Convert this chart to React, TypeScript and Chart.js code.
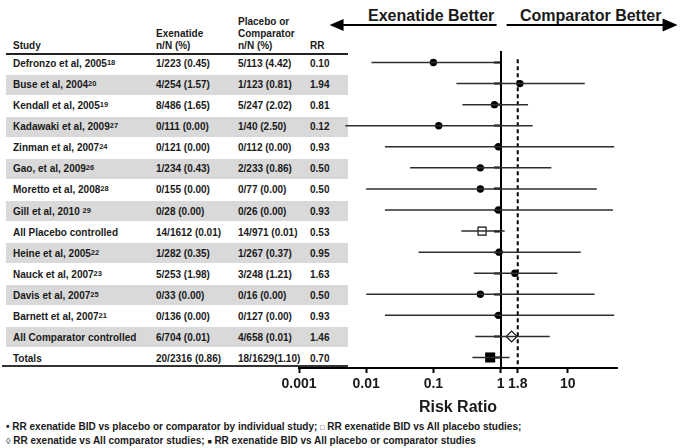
import React, { useEffect, useRef } from "react";
import { Chart, registerables } from "chart.js";

Chart.register(...registerables);

// ---------------- data ----------------
const STUDIES = [
  "Defronzo et al, 2005",
  "Buse et al, 2004",
  "Kendall et al, 2005",
  "Kadawaki et al, 2009",
  "Zinman et al, 2007",
  "Gao, et al, 2009",
  "Moretto et al, 2008",
  "Gill et al, 2010 ",
  "All Placebo controlled",
  "Heine et al, 2005",
  "Nauck et al, 2007",
  "Davis et al, 2007",
  "Barnett et al, 2007",
  "All Comparator controlled",
  "Totals",
];
const REFS = ["18", "20", "19", "27", "24", "26", "28", "29", "", "22", "23", "25", "21", "", ""];
const EXENATIDE = [
  "1/223 (0.45)", "4/254 (1.57)", "8/486 (1.65)", "0/111 (0.00)", "0/121 (0.00)",
  "1/234 (0.43)", "0/155 (0.00)", "0/28 (0.00)", "14/1612 (0.01)", "1/282 (0.35)",
  "5/253 (1.98)", "0/33 (0.00)", "0/136 (0.00)", "6/704 (0.01)", "20/2316 (0.86)",
];
const COMPARATOR = [
  "5/113 (4.42)", "1/123 (0.81)", "5/247 (2.02)", "1/40 (2.50)", "0/112 (0.00)",
  "2/233 (0.86)", "0/77 (0.00)", "0/26 (0.00)", "14/971 (0.01)", "1/267 (0.37)",
  "3/248 (1.21)", "0/16 (0.00)", "0/127 (0.00)", "4/658 (0.01)", "18/1629(1.10)",
];
const RR = [0.10, 1.94, 0.81, 0.12, 0.93, 0.50, 0.50, 0.93, 0.53, 0.95, 1.63, 0.50, 0.93, 1.46, 0.70];
const CI_LOW = [0.012, 0.22, 0.27, 0.0049, 0.019, 0.045, 0.010, 0.019, 0.26, 0.060, 0.40, 0.010, 0.019, 0.42, 0.38];
const CI_HIGH = [0.92, 17.9, 2.56, 3.0, 49, 5.7, 27, 47, 1.15, 15.6, 7.0, 25, 49, 5.4, 1.36];
const KIND = [
  "study", "study", "study", "study", "study", "study", "study", "study",
  "placebo", "study", "study", "study", "study", "comparator", "total",
];
const TICK_VALUES = [0.001, 0.01, 0.1, 1, 1.8, 10];
const TICK_LABELS = ["0.001", "0.01", "0.1", "1", "1.8", "10"];
const MARGIN_RR = 1.8;
const X_MIN = 0.001;
const X_MAX = 54;

// ---------------- layout ----------------
const W = 685;
const H = 448;
const PLOT_LEFT = 299;
const PLOT_RIGHT = 617;
const PLOT_TOP = 52;
const PLOT_BOTTOM = 368;
const X_AXIS_H = 50;
const ROW_H = (PLOT_BOTTOM - PLOT_TOP) / RR.length;
const FONT = "'Liberation Sans', Arial, Helvetica, sans-serif";
const TEXT = "#1a1a1a";

const COLS = [13, 156, 238, 310];

const arrowPlugin = {
  id: "headerArrows",
  afterDraw(chart: any) {
    const ctx = chart.ctx;
    const x1 = chart.scales.x.getPixelForValue(1);
    const y = 25;
    ctx.save();
    ctx.strokeStyle = "#000";
    ctx.fillStyle = "#000";
    ctx.lineWidth = 2;
    // left arrow
    const lTip = x1 - 171;
    ctx.beginPath();
    ctx.moveTo(x1 - 4, y);
    ctx.lineTo(lTip + 8, y);
    ctx.stroke();
    ctx.beginPath();
    ctx.moveTo(lTip, y);
    ctx.lineTo(lTip + 14, y - 6);
    ctx.lineTo(lTip + 14, y + 6);
    ctx.closePath();
    ctx.fill();
    // right arrow
    const rTip = x1 + 177;
    ctx.beginPath();
    ctx.moveTo(x1 + 6, y);
    ctx.lineTo(rTip - 8, y);
    ctx.stroke();
    ctx.beginPath();
    ctx.moveTo(rTip, y);
    ctx.lineTo(rTip - 15, y - 6.5);
    ctx.lineTo(rTip - 15, y + 6.5);
    ctx.closePath();
    ctx.fill();
    ctx.restore();
  },
};

function pointsOf(kind: string) {
  const out: { x: number; y: number }[] = [];
  RR.forEach((v, i) => {
    if (KIND[i] === kind) out.push({ x: v, y: i });
  });
  return out;
}

export default function App() {
  const canvasRef = useRef<HTMLCanvasElement>(null);

  useEffect(() => {
    const ciSets = RR.map((_, i) => ({
      data: [
        { x: CI_LOW[i], y: i },
        { x: CI_HIGH[i], y: i },
      ],
      showLine: true,
      borderColor: "#2e2e2e",
      borderWidth: 1.5,
      pointRadius: 0,
    }));
    const chart = new Chart(canvasRef.current as HTMLCanvasElement, {
      type: "scatter",
      data: {
        datasets: [
          ...ciSets,
          {
            data: [
              { x: MARGIN_RR, y: -0.15 },
              { x: MARGIN_RR, y: RR.length - 0.5 },
            ],
            showLine: true,
            borderColor: "#000",
            borderWidth: 2,
            borderDash: [4, 3],
            pointRadius: 0,
          },
          {
            data: pointsOf("study"),
            pointStyle: "circle",
            pointRadius: 3.7,
            backgroundColor: "#000",
            borderColor: "#000",
            borderWidth: 0,
          },
          {
            data: pointsOf("placebo"),
            pointStyle: "rect",
            pointRadius: 5.7,
            backgroundColor: "#fff",
            borderColor: "#111",
            borderWidth: 1.2,
          },
          {
            data: pointsOf("comparator"),
            pointStyle: "rectRot",
            pointRadius: 5.4,
            backgroundColor: "#fff",
            borderColor: "#111",
            borderWidth: 1.2,
          },
          {
            data: pointsOf("total"),
            pointStyle: "rect",
            pointRadius: 7.1,
            backgroundColor: "#000",
            borderColor: "#000",
            borderWidth: 0,
          },
        ] as any,
      },
      options: {
        responsive: false,
        maintainAspectRatio: false,
        animation: false,
        devicePixelRatio: 1,
        events: [],
        layout: {
          padding: {
            left: PLOT_LEFT,
            right: W - PLOT_RIGHT,
            top: PLOT_TOP,
            bottom: H - PLOT_BOTTOM - X_AXIS_H,
          },
        },
        plugins: {
          legend: { display: false },
          tooltip: { enabled: false },
        },
        scales: {
          x: {
            type: "logarithmic",
            min: X_MIN,
            max: X_MAX,
            position: "bottom",
            afterBuildTicks: (s: any) => {
              s.ticks = TICK_VALUES.map((v) => ({ value: v }));
            },
            afterFit: (s: any) => {
              s.height = X_AXIS_H;
            },
            ticks: {
              autoSkip: false,
              maxRotation: 0,
              padding: 3,
              color: TEXT,
              font: { family: FONT, size: 14, weight: "bold" },
              callback: (_v: any, i: number) => TICK_LABELS[i],
            },
            grid: {
              drawOnChartArea: false,
              drawTicks: true,
              tickLength: 5,
              tickWidth: 2,
              tickColor: "#000",
            },
            border: { display: true, color: "#000", width: 2 },
            title: {
              display: true,
              text: "Risk Ratio",
              color: TEXT,
              font: { family: FONT, size: 16, weight: "bold" },
              padding: { top: 0, bottom: 1 },
            },
          },
          y: {
            type: "linear",
            min: -0.5,
            max: RR.length - 0.5,
            reverse: true,
            position: { x: 1 },
            afterBuildTicks: (s: any) => {
              s.ticks = RR.map((_, i) => ({ value: i }));
            },
            ticks: { display: false },
            grid: {
              drawOnChartArea: false,
              drawTicks: true,
              tickLength: 6,
              tickWidth: 2,
              tickColor: "#000",
            },
            border: { display: true, color: "#000", width: 2 },
          },
        } as any,
      },
      plugins: [arrowPlugin],
    } as any);
    return () => chart.destroy();
  }, []);

  const textStyle = (left: number, centerY: number): React.CSSProperties => ({
    position: "absolute",
    left,
    top: centerY - 6,
    height: 12,
    lineHeight: "12px",
    whiteSpace: "nowrap",
  });

  return (
    <div
      style={{
        position: "fixed",
        left: 0,
        top: 0,
        width: W,
        height: H,
        background: "#fff",
        overflow: "hidden",
        fontFamily: FONT,
        fontWeight: "bold",
        fontSize: 10,
        color: TEXT,
      }}
    >
      {/* table bands */}
      {RR.map((_, i) =>
        i % 2 === 1 ? (
          <div
            key={"band" + i}
            style={{
              position: "absolute",
              left: 6,
              top: PLOT_TOP + i * ROW_H + 1.5,
              width: 342,
              height: ROW_H - 1,
              background: "#d9d9d9",
            }}
          />
        ) : null
      )}
      {/* header */}
      <div style={textStyle(COLS[0], 46)}>Study</div>
      <div style={textStyle(COLS[1], 34)}>Exenatide</div>
      <div style={textStyle(COLS[1], 46)}>n/N (%)</div>
      <div style={textStyle(COLS[2], 22)}>Placebo or</div>
      <div style={textStyle(COLS[2], 34)}>Comparator</div>
      <div style={textStyle(COLS[2], 46)}>n/N (%)</div>
      <div style={textStyle(COLS[3], 46)}>RR</div>
      <div style={{ position: "absolute", left: 6, top: 52.5, width: 342, height: 2, background: "#222" }} />
      <div style={{ position: "absolute", left: 2, top: 365, width: 346, height: 2, background: "#333" }} />
      {/* rows */}
      {STUDIES.map((s, i) => {
        const cy = PLOT_TOP + (i + 0.5) * ROW_H + 1.5;
        return (
          <React.Fragment key={"row" + i}>
            <div style={textStyle(COLS[0], cy)}>
              {s}
              {REFS[i] ? (
                <span style={{ fontSize: 7.5, verticalAlign: "top", position: "relative", top: -1 }}>{REFS[i]}</span>
              ) : null}
            </div>
            <div style={textStyle(COLS[1], cy)}>{EXENATIDE[i]}</div>
            <div style={textStyle(COLS[2], cy)}>{COMPARATOR[i]}</div>
            <div style={textStyle(COLS[3], cy)}>{RR[i].toFixed(2)}</div>
          </React.Fragment>
        );
      })}
      {/* header labels over arrows */}
      <div style={{ position: "absolute", left: 368, top: 6, fontSize: 16, lineHeight: "20px", whiteSpace: "nowrap" }}>
        Exenatide Better
      </div>
      <div style={{ position: "absolute", left: 520, top: 6, fontSize: 16, lineHeight: "20px", whiteSpace: "nowrap" }}>
        Comparator Better
      </div>
      {/* legend */}
      <div style={{ position: "absolute", left: 6, top: 421, lineHeight: "12px", fontSize: 10, whiteSpace: "nowrap" }}>
        <span style={{ fontSize: 10 }}>•</span> RR exenatide BID vs placebo or comparator by individual study;{" "}
        <span style={{ fontSize: 7, fontWeight: "normal" }}>□</span> RR exenatide BID vs All placebo studies;
      </div>
      <div style={{ position: "absolute", left: 6, top: 435, lineHeight: "12px", fontSize: 10, whiteSpace: "nowrap" }}>
        <span style={{ fontSize: 9, fontWeight: "normal" }}>◊</span> RR exenatide vs All comparator studies;{" "}
        <span style={{ fontSize: 7 }}>■</span> RR exenatide BID vs All placebo or comparator studies
      </div>
      <canvas
        ref={canvasRef}
        width={W}
        height={H}
        style={{ position: "absolute", left: 0, top: 0, width: W, height: H, pointerEvents: "none" }}
      />
    </div>
  );
}
